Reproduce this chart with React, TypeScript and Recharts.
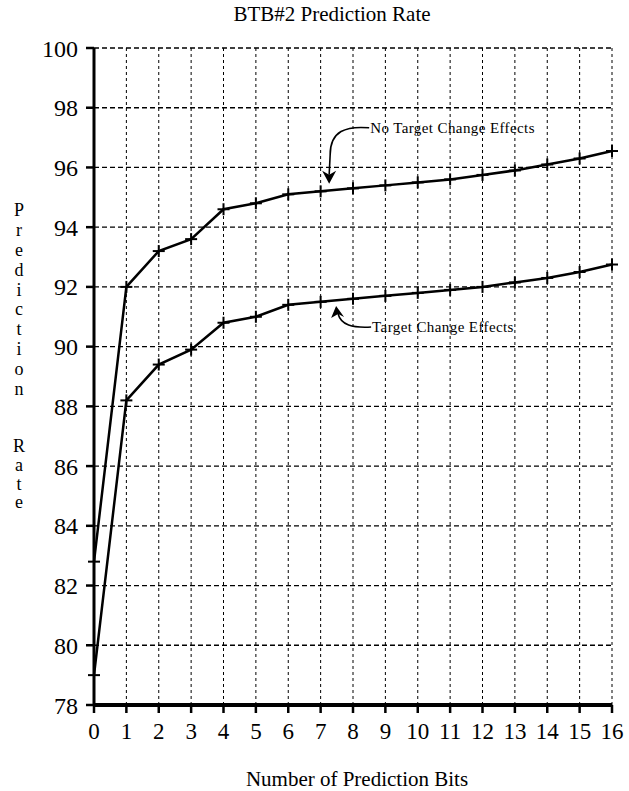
import React from 'react';
import { LineChart, Line, XAxis, YAxis, CartesianGrid, ReferenceDot } from 'recharts';

// Prediction rate (%)
const predictionBits = [0, 1, 2, 3, 4, 5, 6, 7, 8, 9, 10, 11, 12, 13, 14, 15, 16];
const noTargetChange = [82.8, 92.0, 93.2, 93.6, 94.6, 94.8, 95.1, 95.2, 95.3, 95.4, 95.5, 95.6, 95.75, 95.9, 96.1, 96.3, 96.55];
const targetChange = [79.0, 88.2, 89.4, 89.9, 90.8, 91.0, 91.4, 91.5, 91.6, 91.7, 91.8, 91.9, 92.0, 92.15, 92.3, 92.5, 92.75];

const xTicks = predictionBits;
const yTicks = [78, 80, 82, 84, 86, 88, 90, 92, 94, 96, 98, 100];

// where the two callout texts start (data coords)
const noTargetNote = { x: 8.53, y: 97.16, text: 'No Target Change Effects' };
const targetNote = { x: 8.59, y: 90.49, text: 'Target Change Effects' };

const rows = predictionBits.map((b, i) => ({
  bits: b,
  noTarget: noTargetChange[i],
  target: targetChange[i],
}));

const serif = '"Liberation Serif", "DejaVu Serif", serif';

const PlusDot = (props: any) => {
  const { cx, cy, index } = props;
  if (cx == null || cy == null) return null;
  return (
    <g key={`plus-${index}`}>
      <line x1={cx - 6} x2={cx + 6} y1={cy} y2={cy} stroke="#000" strokeWidth={2} />
      <line x1={cx} x2={cx} y1={cy - 6} y2={cy + 6} stroke="#000" strokeWidth={2} />
    </g>
  );
};

const UpperCallout = (props: any) => {
  const { cx, cy } = props;
  if (cx == null) return <g />;
  return (
    <g>
      <path
        d={`M ${cx - 1} ${cy - 5} C ${cx - 24} ${cy - 7}, ${cx - 40} ${cy - 2}, ${cx - 40} ${cy + 22} L ${cx - 41} ${cy + 42}`}
        fill="none"
        stroke="#000"
        strokeWidth={1.6}
      />
      <path
        d={`M ${cx - 48} ${cy + 38} L ${cx - 41} ${cy + 51} L ${cx - 34} ${cy + 38} L ${cx - 41} ${cy + 42} Z`}
        fill="#000"
      />
      <text x={cx} y={cy} fontSize={15} letterSpacing={0.4} fontFamily={serif} fill="#000">
        {noTargetNote.text}
      </text>
    </g>
  );
};

const LowerCallout = (props: any) => {
  const { cx, cy } = props;
  if (cx == null) return <g />;
  return (
    <g>
      <path
        d={`M ${cx - 1} ${cy - 5} C ${cx - 20} ${cy - 4}, ${cx - 31} ${cy - 7}, ${cx - 34} ${cy - 18}`}
        fill="none"
        stroke="#000"
        strokeWidth={1.6}
      />
      <path
        d={`M ${cx - 36} ${cy - 26} L ${cx - 41} ${cy - 14} L ${cx - 34} ${cy - 18} L ${cx - 28} ${cy - 15} Z`}
        fill="#000"
      />
      <text x={cx} y={cy} fontSize={15} letterSpacing={0.4} fontFamily={serif} fill="#000">
        {targetNote.text}
      </text>
    </g>
  );
};

const letterCol = (word: string, top: number, step: number) => (
  <div style={{ position: 'absolute', left: 8, top, width: 22, textAlign: 'center' }}>
    {word.split('').map((ch, i) => (
      <div key={i} style={{ height: step, lineHeight: `${step}px`, fontSize: 18 }}>
        {ch}
      </div>
    ))}
  </div>
);

export default function App() {
  return (
    <div
      style={{
        position: 'absolute',
        left: 0,
        top: 0,
        width: 629,
        height: 791,
        background: '#fff',
        fontFamily: serif,
        color: '#000',
      }}
    >
      <style>{`.recharts-cartesian-axis-tick-value, .recharts-text { font-family: ${serif}; }`}</style>
      <div style={{ position: 'absolute', left: 0, top: 2, width: 664, textAlign: 'center', fontSize: 21 }}>
        BTB#2 Prediction Rate
      </div>
      {letterCol('Prediction', 201, 19.9)}
      {letterCol('Rate', 437, 18.8)}
      <div style={{ position: 'absolute', left: 0, top: 767, width: 714, textAlign: 'center', fontSize: 21 }}>
        Number of Prediction Bits
      </div>

      <LineChart
        width={629}
        height={791}
        data={rows}
        margin={{ top: 48, right: 17, left: 0, bottom: 0 }}
        style={{ position: 'absolute', left: 0, top: 0 }}
      >
        <CartesianGrid vertical={false} stroke="#000" strokeWidth={1.3} strokeDasharray="5 3" />
        <CartesianGrid horizontal={false} stroke="#000" strokeWidth={1} strokeDasharray="3 3" />
        <XAxis
          dataKey="bits"
          type="number"
          domain={[0, 16]}
          ticks={xTicks}
          interval={0}
          height={86}
          tickSize={8}
          tickMargin={10}
          axisLine={{ stroke: '#000', strokeWidth: 4 }}
          tickLine={{ stroke: '#000', strokeWidth: 2.5 }}
          tick={{ fill: '#000', fontSize: 23, fontFamily: serif }}
        />
        <YAxis
          type="number"
          domain={[78, 100]}
          ticks={yTicks}
          interval={0}
          width={94}
          tickSize={8}
          tickMargin={8}
          axisLine={{ stroke: '#000', strokeWidth: 3 }}
          tickLine={{ stroke: '#000', strokeWidth: 2.5 }}
          tick={{ fill: '#000', fontSize: 24, fontFamily: serif }}
        />
        <Line
          type="linear"
          dataKey="noTarget"
          stroke="#000"
          strokeWidth={2.5}
          dot={PlusDot}
          activeDot={false}
          isAnimationActive={false}
        />
        <Line
          type="linear"
          dataKey="target"
          stroke="#000"
          strokeWidth={2.5}
          dot={PlusDot}
          activeDot={false}
          isAnimationActive={false}
        />
        <ReferenceDot x={noTargetNote.x} y={noTargetNote.y} shape={UpperCallout} />
        <ReferenceDot x={targetNote.x} y={targetNote.y} shape={LowerCallout} />
      </LineChart>
    </div>
  );
}
